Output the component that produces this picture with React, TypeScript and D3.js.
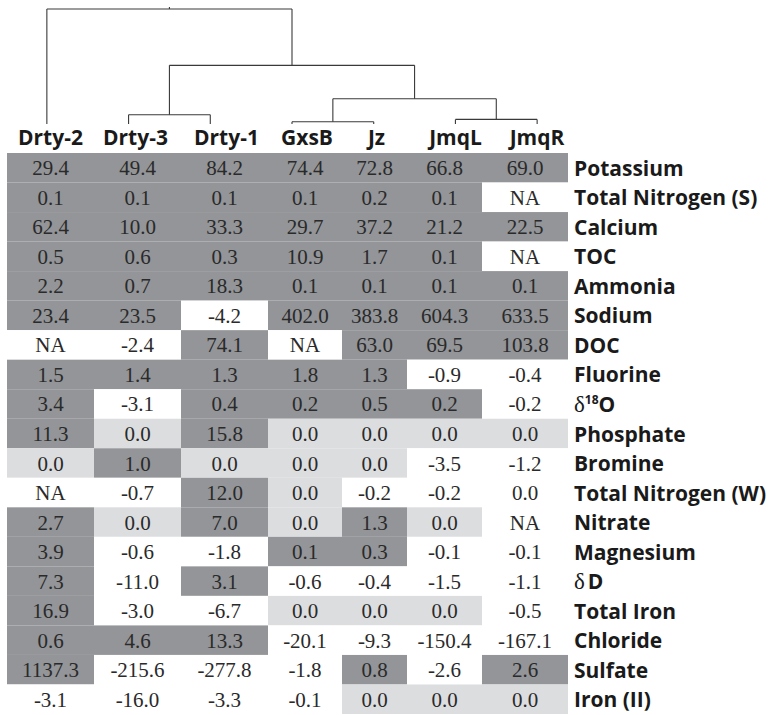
import React from 'react';
import * as d3 from 'd3';

const W = 775;
const H = 715;

// columns in dendrogram order
const sites = ['Drty-2', 'Drty-3', 'Drty-1', 'GxsB', 'Jz', 'JmqL', 'JmqR'];

const parameters = [
  'Potassium', 'Total Nitrogen (S)', 'Calcium', 'TOC', 'Ammonia', 'Sodium', 'DOC',
  'Fluorine', 'd18O', 'Phosphate', 'Bromine', 'Total Nitrogen (W)', 'Nitrate',
  'Magnesium', 'dD', 'Total Iron', 'Chloride', 'Sulfate', 'Iron (II)',
];

// cell values, one row per parameter (as printed)
const values = [
  ['29.4', '49.4', '84.2', '74.4', '72.8', '66.8', '69.0'],
  ['0.1', '0.1', '0.1', '0.1', '0.2', '0.1', 'NA'],
  ['62.4', '10.0', '33.3', '29.7', '37.2', '21.2', '22.5'],
  ['0.5', '0.6', '0.3', '10.9', '1.7', '0.1', 'NA'],
  ['2.2', '0.7', '18.3', '0.1', '0.1', '0.1', '0.1'],
  ['23.4', '23.5', '-4.2', '402.0', '383.8', '604.3', '633.5'],
  ['NA', '-2.4', '74.1', 'NA', '63.0', '69.5', '103.8'],
  ['1.5', '1.4', '1.3', '1.8', '1.3', '-0.9', '-0.4'],
  ['3.4', '-3.1', '0.4', '0.2', '0.5', '0.2', '-0.2'],
  ['11.3', '0.0', '15.8', '0.0', '0.0', '0.0', '0.0'],
  ['0.0', '1.0', '0.0', '0.0', '0.0', '-3.5', '-1.2'],
  ['NA', '-0.7', '12.0', '0.0', '-0.2', '-0.2', '0.0'],
  ['2.7', '0.0', '7.0', '0.0', '1.3', '0.0', 'NA'],
  ['3.9', '-0.6', '-1.8', '0.1', '0.3', '-0.1', '-0.1'],
  ['7.3', '-11.0', '3.1', '-0.6', '-0.4', '-1.5', '-1.1'],
  ['16.9', '-3.0', '-6.7', '0.0', '0.0', '0.0', '-0.5'],
  ['0.6', '4.6', '13.3', '-20.1', '-9.3', '-150.4', '-167.1'],
  ['1137.3', '-215.6', '-277.8', '-1.8', '0.8', '-2.6', '2.6'],
  ['-3.1', '-16.0', '-3.3', '-0.1', '0.0', '0.0', '0.0'],
];

// shading class per cell: D = increase, L = no change, W = decrease / NA
const shades = [
  'DDDDDDD', 'DDDDDDW', 'DDDDDDD', 'DDDDDDW', 'DDDDDDD', 'DDWDDDD', 'WWDWDDD',
  'DDDDDWW', 'DWDDDDW', 'DLDLLLL', 'LDLLLWW', 'WWDLWWW', 'DLDLDLW', 'DWWDDWW',
  'DWDWWWW', 'DWWLLLW', 'DDDWWWW', 'DWWWDWD', 'WWWWLLL',
];

// clustering tree of the sites (merge heights, relative)
const tree = {
  name: 'root', h: 1.0, children: [
    { name: 'Drty-2', h: 0 },
    {
      name: 'A', h: 0.51, children: [
        { name: 'C1', h: 0.08, children: [{ name: 'Drty-3', h: 0 }, { name: 'Drty-1', h: 0 }] },
        {
          name: 'B', h: 0.22, children: [
            { name: 'GJ', h: 0.02, children: [{ name: 'GxsB', h: 0 }, { name: 'Jz', h: 0 }] },
            { name: 'JJ', h: 0.04, children: [{ name: 'JmqL', h: 0 }, { name: 'JmqR', h: 0 }] },
          ],
        },
      ],
    },
  ],
};

// layout constants
const colWidths = [87, 87, 87, 74, 65, 75, 86];
const labelNudge = [0, -2, 2, 2, 2, 11, 12];
const left = 7;
const top = 153;
const bottom = 714;
const labelFont = '"Open Sans", "DejaVu Sans", sans-serif';
const cellFont = '"Liberation Serif", "DejaVu Serif", serif';
const fills = { D: '#939598', L: '#dcdddf', W: '#ffffff' };

const RowLabel = ({ name, x, y }) => {
  if (name === 'd18O') {
    return (
      <text x={x} y={y} fontFamily={labelFont} fontWeight={700} fontSize={21} fill="#1a1a1a">
        <tspan fontFamily={cellFont} fontWeight={400} fontSize={23}>δ</tspan>
        <tspan fontSize={12} dy={-8}>18</tspan>
        <tspan dy={8}>O</tspan>
      </text>
    );
  }
  if (name === 'dD') {
    return (
      <text x={x} y={y} fontFamily={labelFont} fontWeight={700} fontSize={21} fill="#1a1a1a">
        <tspan fontFamily={cellFont} fontWeight={400} fontSize={23}>δ</tspan>
        <tspan dx={3}>D</tspan>
      </text>
    );
  }
  return (
    <text x={x} y={y} fontFamily={labelFont} fontWeight={700} fontSize={21} fill="#1a1a1a">
      {name}
    </text>
  );
};

export default function App() {
  const edges = [0, ...d3.cumsum(colWidths)].map(v => v + left);
  const colX = d3.scaleOrdinal<string, number>().domain(sites).range(edges.slice(0, -1));
  const colW = (s: string) => colWidths[sites.indexOf(s)];
  const y = d3.scaleBand().domain(parameters).range([top, bottom]).padding(0);
  const labelX = edges[edges.length - 1] + 6;

  // dendrogram
  const root = d3.hierarchy(tree);
  d3.cluster().size([572, 1]).separation(() => 1)(root);
  const yd = d3.scaleLinear().domain([0, 1]).range([124, 9]);
  const links: { x1: number; y1: number; x2: number; y2: number }[] = [];
  root.each((n: any) => {
    if (!n.children) return;
    const ny = yd(n.data.h);
    const xs = n.children.map((c: any) => c.x + 6);
    links.push({ x1: d3.min(xs), y1: ny, x2: d3.max(xs), y2: ny });
    n.children.forEach((c: any) => {
      links.push({ x1: c.x + 6, y1: ny, x2: c.x + 6, y2: yd(c.data.h) });
    });
  });
  const rootX = (root as any).x + 6;

  return (
    <svg width={W} height={H} style={{ position: 'absolute', left: 0, top: 0, background: '#fff' }}>
      <g stroke="#3a3a3a" strokeWidth={1.1} fill="none">
        {links.map((l, i) => (
          <line key={i} x1={l.x1} y1={l.y1} x2={l.x2} y2={l.y2} />
        ))}
        <line x1={rootX} x2={rootX} y1={yd(1)} y2={yd(1) - 2} />
      </g>

      {sites.map((s, i) => (
        <text key={s} x={colX(s) + colW(s) / 2 + labelNudge[i]} y={145} textAnchor="middle"
          fontFamily={labelFont} fontWeight={700} fontSize={21} fill="#1a1a1a">
          {s}
        </text>
      ))}

      {parameters.map((p, r) => (
        <g key={p}>
          {sites.map((s, c) => (
            <g key={s}>
              <rect x={colX(s)} y={y(p)} width={colW(s)} height={y.bandwidth()}
                fill={fills[shades[r][c]]} />
              <text x={colX(s) + colW(s) / 2} y={y(p) + y.bandwidth() / 2 + 7.5}
                textAnchor="middle" fontFamily={cellFont} fontSize={21} fill="#2a2a2a">
                {values[r][c]}
              </text>
            </g>
          ))}
          <RowLabel name={p} x={labelX} y={y(p) + y.bandwidth() / 2 + 8} />
        </g>
      ))}
    </svg>
  );
}
